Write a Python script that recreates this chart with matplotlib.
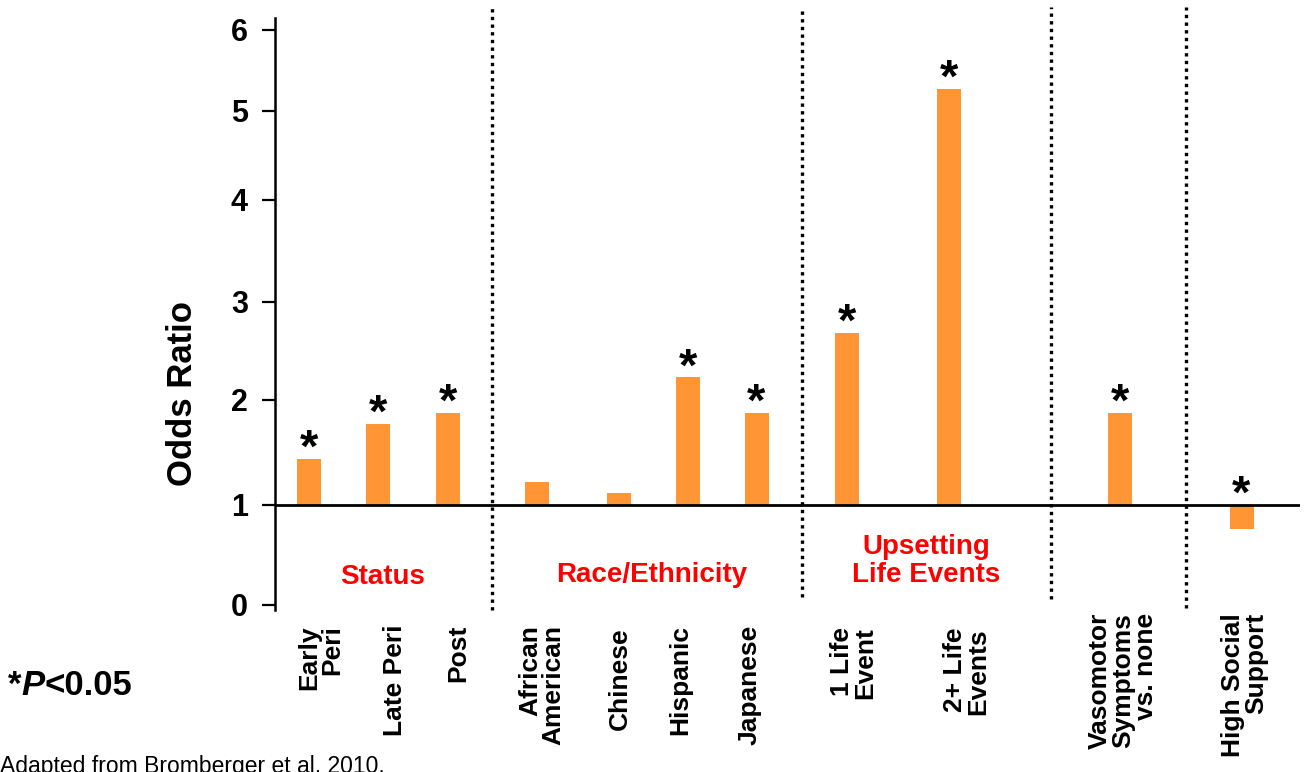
import numpy as np
import matplotlib
matplotlib.use("Agg")
import matplotlib.pyplot as plt
import matplotlib.transforms as mtransforms

plt.rcParams["font.family"] = ["Liberation Sans", "DejaVu Sans"]
plt.rcParams["font.weight"] = "bold"

# ---- data ----
labels = ["Early\nPeri", "Late Peri", "Post",
          "African\nAmerican", "Chinese", "Hispanic", "Japanese",
          "1 Life\nEvent", "2+ Life\nEvents",
          "Vasomotor\nSymptoms\nvs. none", "High Social\nSupport"]
odds = [1.44, 1.77, 1.88, 1.22, 1.11, 2.23, 1.88, 2.68, 5.27, 1.88, 0.76]
significant = [True, True, True, False, False, True, True, True, True, True, True]
groups = ["Status", "Race/Ethnicity", "Upsetting\nLife Events"]

# ---- layout (x in units of 10 px from the y axis) ----
bar_x = [3.4, 10.3, 17.3, 26.2, 34.4, 41.3, 48.15, 57.2, 67.4, 84.5, 96.65]
label_x = [4.6, 12.0, 18.3, 26.7, 34.5, 40.5, 47.5, 57.9, 69.2, 84.8, 97.0]
label_top = [625, 625, 625, 625, 627, 625, 625, 627, 628, 613, 613]
group_x = [10.8, 37.7, 65.1]
group_y = [0.275, 0.30, 0.44]
sep_x = [21.7, 52.7, 77.6, 91.1]
sep_bottom = [-0.05, 0.08, 0.06, -0.03]

# the odds axis is stretched unevenly between its ticks
scale_v = [-1, 0, 1, 2, 3, 4, 5, 6, 7]
scale_u = [-100, 0, 100, 205, 303, 405, 494, 575, 656]


def fwd(v):
    return np.interp(v, scale_v, scale_u)


def inv(u):
    return np.interp(u, scale_u, scale_v)


W, H = 1311, 772
fig = plt.figure(figsize=(W / 100, H / 100), dpi=100)
ax = fig.add_axes([275 / W, 162 / H, 1025 / W, 592 / H])
ax.set_yscale("function", functions=(fwd, inv))
ax.set_xlim(0, 102.5)
ax.set_ylim(-0.05, 6.148)

# bars start at OR = 1
ax.bar(bar_x, [v - 1 for v in odds], bottom=1, width=2.4,
       color="#FF9535", zorder=2)
ax.axhline(1, color="black", lw=2, zorder=3)

for x, v, s in zip(bar_x, odds, significant):
    if s:
        ax.annotate("*", xy=(x, max(v, 1)), xytext=(0, -2),
                    textcoords="offset points", ha="center", va="baseline",
                    fontsize=34)

# dotted group separators
for x, b in zip(sep_x, sep_bottom):
    ax.plot([x, x], [b, 6.28], color="black", lw=2.4,
            linestyle=(0, (1.0, 1.3)), clip_on=False)

for x, y, g in zip(group_x, group_y, groups):
    ax.text(x, y, g, color="#FF0000", fontsize=20, ha="center", va="center",
            linespacing=1.1)

# axis styling
for side in ["top", "right", "bottom"]:
    ax.spines[side].set_visible(False)
ax.spines["left"].set_linewidth(1.8)
ax.set_xticks([])
ax.set_yticks(range(7))
ax.set_yticklabels([str(i) for i in range(7)])
ax.tick_params(axis="y", length=9.5, width=1.6, pad=10, labelsize=22)

# category labels under the axis
trans = mtransforms.blended_transform_factory(ax.transData, fig.transFigure)
for x, top, lab in zip(label_x, label_top, labels):
    ax.text(x, 1 - top / H, lab, transform=trans, rotation=90,
            ha="center", va="top", multialignment="right",
            fontsize=19, linespacing=0.95)

fig.text(182 / W, 1 - 393 / H, "Odds Ratio", rotation=90,
         ha="center", va="center", fontsize=25)

# significance footnote
star = fig.text(8 / W, 1 - 695 / H, "*", fontsize=25, va="baseline")
p = ax.annotate("P", xy=(1, 0), xycoords=star, va="bottom", ha="left",
                fontsize=25, fontstyle="italic", annotation_clip=False)
ax.annotate("<0.05", xy=(1, 0), xycoords=p, va="bottom", ha="left",
            fontsize=25, annotation_clip=False)

fig.text(0.0, -1 / H, "Adapted from Bromberger et al. 2010.",
         fontsize=16.5, fontweight="normal", va="baseline")

fig.savefig("out.png", dpi=100)
